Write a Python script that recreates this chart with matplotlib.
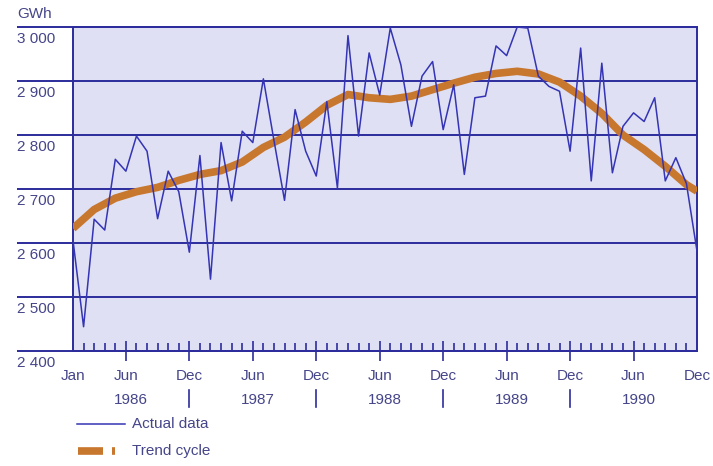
import matplotlib
matplotlib.use("Agg")
import matplotlib.pyplot as plt
from matplotlib.lines import Line2D

plt.rcParams['font.family'] = ['Liberation Sans', 'DejaVu Sans']

# Datos mensuales, ene 1986 - dic 1990 (GWh)
months = list(range(60))
actual = [2605, 2445, 2644, 2624, 2755, 2733, 2798, 2770, 2645, 2733,
          2695, 2583, 2762, 2533, 2786, 2678, 2807, 2786, 2904, 2790,
          2679, 2847, 2770, 2724, 2862, 2702, 2984, 2798, 2952, 2874,
          2998, 2930, 2816, 2909, 2936, 2810, 2893, 2727, 2869, 2872,
          2965, 2947, 3000, 2998, 2909, 2890, 2881, 2770, 2961, 2715,
          2933, 2730, 2816, 2841, 2825, 2869, 2715, 2758, 2710, 2585]

# Tendencia leida cada dos meses
trend_months = [0, 2, 4, 6, 8, 10, 12, 14, 16, 18, 20, 22, 24, 26, 28, 30,
                32, 34, 36, 38, 40, 42, 44, 46, 48, 50, 52, 54, 56, 58, 59]
trend = [2627, 2662, 2683, 2695, 2703, 2716, 2727, 2734, 2750, 2777,
         2796, 2824, 2855, 2875, 2869, 2866, 2872, 2884, 2896, 2907,
         2914, 2918, 2913, 2898, 2872, 2840, 2800, 2773, 2742, 2708, 2696]

tick_pos = [0, 5, 11, 17, 23, 29, 35, 41, 47, 53, 59]
tick_labels = ['Jan', 'Jun', 'Dec', 'Jun', 'Dec', 'Jun', 'Dec', 'Jun', 'Dec', 'Jun', 'Dec']
years = ['1986', '1987', '1988', '1989', '1990']
year_pos = [5.5, 17.5, 29.5, 41.5, 53.5]
year_breaks = [11, 23, 35, 47]
y_vals = [2400, 2500, 2600, 2700, 2800, 2900, 3000]
y_labels = ['2 400', '2 500', '2 600', '2 700', '2 800', '2 900', '3 000']

navy = '#2c2c9c'
blue = '#3434b4'
orange = '#c8772e'
txt = '#45458a'
W, H = 713, 466

fig = plt.figure(figsize=(W / 100, H / 100), dpi=100)
ax = fig.add_axes([73 / W, (H - 351) / H, 624 / W, 324 / H])
ax.set_facecolor('#dfe0f4')

ax.plot(trend_months, trend, color=orange, lw=5.5, solid_joinstyle='round',
        solid_capstyle='butt', zorder=3)
ax.plot(months, actual, color=blue, lw=1.1, zorder=4)

ax.set_xlim(0, 59)
ax.set_ylim(2400, 3000)

# Lineas horizontales que salen hacia las etiquetas
ytr = ax.get_yaxis_transform()
ax.hlines(y_vals, -0.089, 1, transform=ytr, color=navy, lw=1.4,
          clip_on=False, zorder=2)
for v, lab in zip(y_vals, y_labels):
    ax.annotate(lab, (-0.089, v), xycoords=ytr, xytext=(0, -12),
                textcoords='offset pixels', ha='left', va='center',
                fontsize=11, color=txt)
ax.annotate('GWh', (-0.089, 3000), xycoords=ytr, xytext=(0, 13),
            textcoords='offset pixels', ha='left', va='center',
            fontsize=11, color=txt)

for s in ax.spines.values():
    s.set_color(navy)
    s.set_linewidth(1.4)

ax.set_yticks([])
ax.set_xticks(tick_pos)
ax.set_xticklabels(tick_labels, fontsize=11, color=txt)
ax.set_xticks([m for m in months if m not in tick_pos], minor=True)
ax.tick_params(axis='x', which='major', direction='inout', length=14,
               width=1.2, color=navy, pad=6)
ax.tick_params(axis='x', which='minor', direction='in', length=6,
               width=1.2, color=navy)
ticks = ax.xaxis.get_major_ticks()
ticks[0].tick1line.set_visible(False)
ticks[-1].tick1line.set_visible(False)

xtr = ax.get_xaxis_transform()
for p, y in zip(year_pos, years):
    ax.text(p, -0.151, y, transform=xtr, ha='center', va='center',
            fontsize=11, color=txt)
for b in year_breaks:
    ax.plot([b, b], [-0.12, -0.173], transform=xtr, color=navy, lw=1.2,
            clip_on=False)

# Leyenda dibujada a mano
def fx(px):
    return px / W

def fy(py):
    return 1 - py / H

fig.add_artist(Line2D([fx(77), fx(125)], [fy(424), fy(424)], color=blue, lw=1.1))
fig.add_artist(Line2D([fx(78), fx(103)], [fy(451), fy(451)], color=orange,
                      lw=5.5, solid_capstyle='butt'))
fig.add_artist(Line2D([fx(112), fx(115)], [fy(451), fy(451)], color=orange,
                      lw=5.5, solid_capstyle='butt'))
fig.text(fx(132), fy(424), 'Actual data', ha='left', va='center',
         fontsize=11, color=txt)
fig.text(fx(132), fy(451), 'Trend cycle', ha='left', va='center',
         fontsize=11, color=txt)

fig.savefig('out.png', dpi=100)
